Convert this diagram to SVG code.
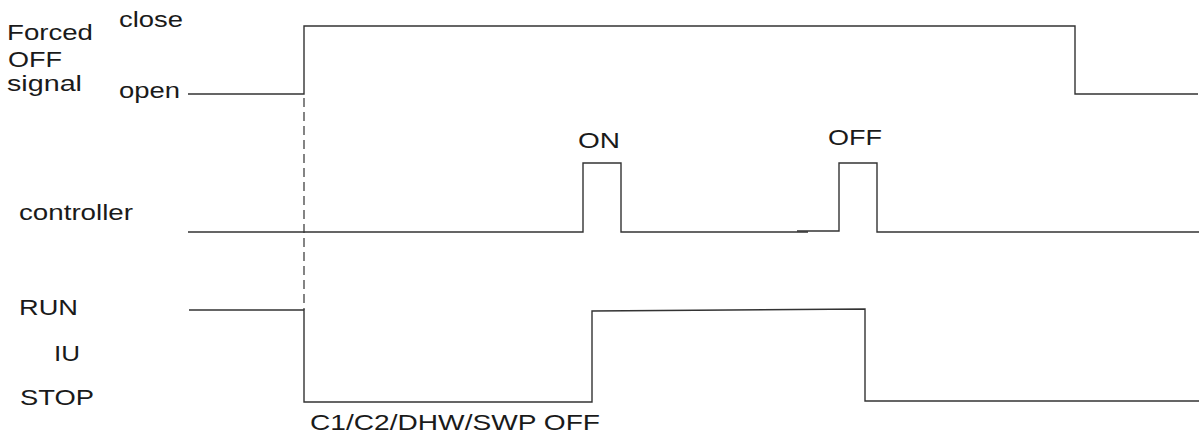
<svg xmlns="http://www.w3.org/2000/svg" width="1203" height="436" viewBox="0 0 1203 436">
<style>
.t{font-family:"Liberation Sans",Arial,sans-serif;font-size:22px;fill:#1a1a1a}
.w{fill:none;stroke:#333;stroke-width:1.4}
.d{fill:none;stroke:#333;stroke-width:1.2;stroke-dasharray:9 5}
</style>
<rect width="1203" height="436" fill="#fff"/>
<g id="labels">
<text class="t" x="7" y="40" textLength="86" lengthAdjust="spacingAndGlyphs">Forced</text>
<text class="t" x="8" y="67" textLength="54" lengthAdjust="spacingAndGlyphs">OFF</text>
<text class="t" x="7" y="91" textLength="75" lengthAdjust="spacingAndGlyphs">signal</text>
<text class="t" x="119" y="27" textLength="64" lengthAdjust="spacingAndGlyphs">close</text>
<text class="t" x="119" y="98" textLength="61" lengthAdjust="spacingAndGlyphs">open</text>
<text class="t" x="19" y="220" textLength="114" lengthAdjust="spacingAndGlyphs">controller</text>
<text class="t" x="19" y="315" textLength="59" lengthAdjust="spacingAndGlyphs">RUN</text>
<text class="t" x="54" y="361" textLength="26" lengthAdjust="spacingAndGlyphs">IU</text>
<text class="t" x="20" y="405" textLength="74" lengthAdjust="spacingAndGlyphs">STOP</text>
<text class="t" x="578" y="148" textLength="42" lengthAdjust="spacingAndGlyphs">ON</text>
<text class="t" x="828" y="145" textLength="54" lengthAdjust="spacingAndGlyphs">OFF</text>
<text class="t" x="310" y="430" textLength="290" lengthAdjust="spacingAndGlyphs">C1/C2/DHW/SWP OFF</text>
</g>
<g id="connectors">
<polyline id="forced-off" class="w" points="188,94 304,94 304,26 1075,26 1075,94 1198,94"/>
<line id="marker-line" class="d" x1="304" y1="98" x2="304" y2="310"/>
<polyline id="controller-on" class="w" points="188,232 583,232 583,163 621,163 621,232 808,232"/>
<polyline id="controller-off" class="w" points="797,231 839,231 839,163 877,163 877,232 1199,232"/>
<polyline id="iu" class="w" points="189,310 304,310 304,402 592,402 592,311 865,309 865,401 1199,401"/>
</g>
</svg>
